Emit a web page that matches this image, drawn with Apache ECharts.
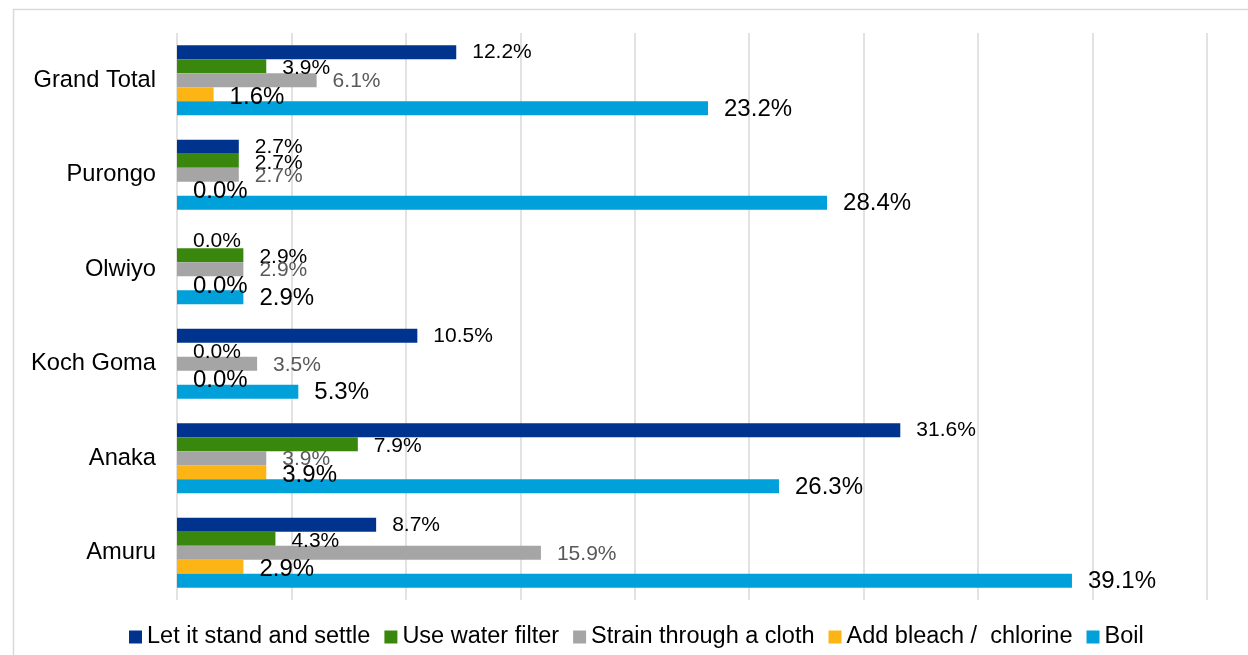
<!DOCTYPE html>
<html>
<head>
<meta charset="utf-8">
<script src="https://cdn.jsdelivr.net/npm/echarts@6/dist/echarts.min.js"></script>
<style>
  html, body { margin: 0; padding: 0; background: #ffffff; }
  #chart { width: 1248px; height: 655px; }
</style>
</head>
<body>
<div id="chart"></div>
<script>
// Sub-counties, listed top to bottom
const categories = ['Grand Total', 'Purongo', 'Olwiyo', 'Koch Goma', 'Anaka', 'Amuru'];

// Share of households using each water treatment method (%)
const standAndSettle = [12.2, 2.7, 0.0, 10.5, 31.6, 8.7];
const waterFilter    = [3.9, 2.7, 2.9, 0.0, 7.9, 4.3];
const strainCloth    = [6.1, 2.7, 2.9, 3.5, 3.9, 15.9];
const bleachChlorine = [1.6, 0.0, 0.0, 0.0, 3.9, 2.9];
const boil           = [23.2, 28.4, 2.9, 5.3, 26.3, 39.1];

const seriesNames = [
  'Let it stand and settle',
  'Use water filter',
  'Strain through a cloth',
  'Add bleach /  chlorine',
  'Boil'
];

const FONT = 'Arial, "Liberation Sans", sans-serif';

const seriesDefs = [
  { data: standAndSettle, color: '#00338D', labelColor: '#000000', labelSize: 21, shift: 0 },
  { data: waterFilter,    color: '#3A870E', labelColor: '#000000', labelSize: 21, shift: 2 },
  { data: strainCloth,    color: '#A5A5A5', labelColor: '#595959', labelSize: 21, shift: 1 },
  { data: bleachChlorine, color: '#FDB515', labelColor: '#000000', labelSize: 24, shift: 3 },
  { data: boil,           color: '#00A0DA', labelColor: '#000000', labelSize: 24, shift: 1 }
];

const chart = echarts.init(document.getElementById('chart'), null, { renderer: 'canvas' });

chart.setOption({
  backgroundColor: '#ffffff',
  animation: false,
  textStyle: { fontFamily: FONT },
  graphic: [{
    type: 'rect',
    left: 11,
    top: 7,
    shape: { width: 1400, height: 800 },
    style: { fill: 'none', stroke: '#D9D9D9', lineWidth: 1.5 },
    silent: true,
    z: -1
  }],
  grid: { left: 177, right: 41, top: 33, bottom: 55, containLabel: false },
  xAxis: {
    type: 'value',
    min: 0,
    max: 45,
    interval: 5,
    axisLabel: { show: false },
    axisLine: { show: false },
    axisTick: { show: false },
    splitLine: { show: true, lineStyle: { color: '#D9D9D9', width: 1.5 } }
  },
  yAxis: {
    type: 'category',
    inverse: true,
    data: categories,
    axisLine: { show: false },
    axisTick: { show: false },
    axisLabel: { color: '#000000', fontSize: 23.7, fontFamily: FONT, margin: 21 }
  },
  legend: {
    left: 124,
    top: 620,
    icon: 'rect',
    itemWidth: 13,
    itemHeight: 13,
    itemGap: 14,
    textStyle: { color: '#000000', fontSize: 23.5, fontFamily: FONT },
    data: seriesNames
  },
  series: seriesDefs.map((s, i) => ({
    name: seriesNames[i],
    type: 'bar',
    data: s.data,
    barGap: '0%',
    barCategoryGap: '26%',
    itemStyle: { color: s.color },
    label: {
      show: true,
      position: 'right',
      distance: 16,
      offset: [0, s.shift],
      color: s.labelColor,
      fontSize: s.labelSize,
      fontFamily: FONT,
      formatter: p => p.value.toFixed(1) + '%'
    }
  }))
});
</script>
</body>
</html>
